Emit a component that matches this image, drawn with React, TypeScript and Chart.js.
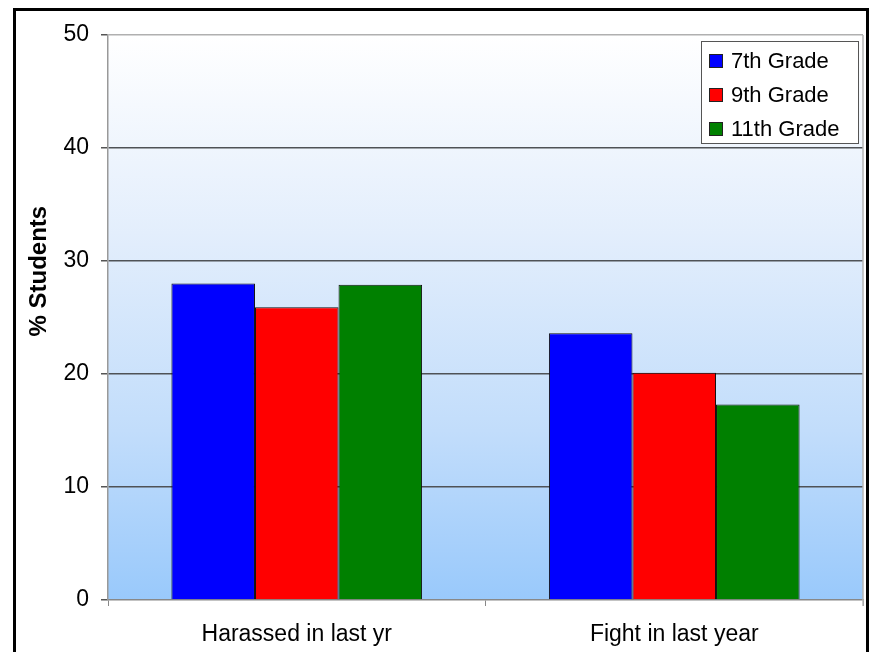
import React, { useEffect, useRef } from "react";
import { Chart, registerables } from "chart.js";

Chart.register(...registerables);

const categories = ["Harassed in last yr", "Fight in last year"];
const seriesNames = ["7th Grade", "9th Grade", "11th Grade"];
const grade7 = [28.0, 23.6];
const grade9 = [25.9, 20.1];
const grade11 = [27.9, 17.3];
const seriesColors = ["#0000ff", "#ff0000", "#008000"];
const yTicks = [0, 10, 20, 30, 40, 50];
const yTitle = "% Students";

const FONT = "'Liberation Sans', Arial, sans-serif";

const bgPlugin = {
  id: "bgPlugin",
  beforeDraw(chart: any) {
    const { ctx, chartArea } = chart;
    const { left, top, right, bottom } = chartArea;
    const g = ctx.createLinearGradient(0, top, 0, bottom);
    g.addColorStop(0, "#ffffff");
    g.addColorStop(0.35, "#e3eefc");
    g.addColorStop(0.7, "#c2ddfb");
    g.addColorStop(1, "#99c9fb");
    ctx.save();
    ctx.fillStyle = g;
    ctx.fillRect(left, top, right - left, bottom - top);
    ctx.restore();
  },
  afterDraw(chart: any) {
    const { ctx, chartArea } = chart;
    const { left, top, right, bottom } = chartArea;
    ctx.save();
    // right border of the plot
    ctx.strokeStyle = "#b5b5b5";
    ctx.lineWidth = 1.5;
    ctx.beginPath();
    ctx.moveTo(right, top);
    ctx.lineTo(right, bottom + 6);
    ctx.stroke();

    // y axis title
    ctx.fillStyle = "#000";
    ctx.font = `bold 24px ${FONT}`;
    ctx.textAlign = "center";
    ctx.textBaseline = "middle";
    ctx.translate(39, top + (bottom - top) * 0.418);
    ctx.rotate(-Math.PI / 2);
    ctx.fillText(yTitle, 0, 0);
    ctx.restore();

    // legend
    ctx.save();
    const lx = 701, ly = 41, lw = 157, lh = 102;
    ctx.fillStyle = "#ffffff";
    ctx.fillRect(lx, ly, lw, lh);
    ctx.strokeStyle = "#555";
    ctx.lineWidth = 1;
    ctx.strokeRect(lx + 0.5, ly + 0.5, lw, lh);
    ctx.font = `22px ${FONT}`;
    ctx.textAlign = "left";
    ctx.textBaseline = "middle";
    chart.data.datasets.forEach((ds: any, i: number) => {
      const cy = ly + 20 + i * 34;
      ctx.fillStyle = ds.backgroundColor;
      ctx.fillRect(lx + 8, cy - 7, 14, 14);
      ctx.strokeStyle = "#222";
      ctx.strokeRect(lx + 8.5, cy - 6.5, 13, 13);
      ctx.fillStyle = "#000";
      ctx.fillText(ds.label, lx + 30, cy + 1);
    });
    ctx.restore();
  },
};

export default function App() {
  const ref = useRef<HTMLCanvasElement>(null);

  useEffect(() => {
    if (!ref.current) return;
    const data = [grade7, grade9, grade11];
    const chart = new Chart(ref.current, {
      type: "bar",
      data: {
        labels: categories,
        datasets: seriesNames.map((name, i) => ({
          label: name,
          data: data[i],
          backgroundColor: seriesColors[i],
          borderColor: "#111",
          borderWidth: 1,
          barPercentage: 1,
          categoryPercentage: 0.664,
        })),
      },
      options: {
        animation: false,
        responsive: false,
        maintainAspectRatio: false,
        layout: { padding: { left: 0, right: 10, top: 35, bottom: 0 } },
        plugins: {
          legend: { display: false },
          tooltip: { enabled: false },
          title: { display: false },
        },
        scales: {
          x: {
            grid: {
              offset: true,
              drawOnChartArea: false,
              drawTicks: true,
              tickLength: 6,
              tickColor: "#888",
            },
            border: { color: "#888", width: 1.5 },
            ticks: {
              color: "#000",
              font: { family: FONT, size: 23 },
              padding: 15,
            },
            afterFit(scale: any) {
              scale.height = 52;
            },
          },
          y: {
            min: 0,
            max: 50,
            afterBuildTicks(scale: any) {
              scale.ticks = yTicks.map((v) => ({ value: v }));
            },
            grid: {
              color: (c: any) =>
                c.tick && c.tick.value === 50 ? "#b0b0b0" : c.tick && c.tick.value === 0 ? "rgba(0,0,0,0)" : "#4f5256",
              lineWidth: 1.5,
              drawTicks: true,
              tickLength: 7,
              tickColor: "#555",
            },
            border: { color: "#999", width: 1.5 },
            ticks: {
              color: "#000",
              font: { family: FONT, size: 23 },
              padding: 12,
            },
            afterFit(scale: any) {
              scale.width = 108;
            },
          },
        },
      },
      plugins: [bgPlugin],
    });
    return () => chart.destroy();
  }, []);

  return (
    <div style={{ position: "absolute", left: 0, top: 0, width: 873, height: 652, overflow: "hidden", background: "#fff" }}>
      <canvas ref={ref} width={873} height={652} style={{ display: "block" }} />
      <div
        style={{
          position: "absolute",
          left: 13,
          top: 8,
          width: 850,
          height: 660,
          border: "3px solid #000",
          pointerEvents: "none",
        }}
      />
    </div>
  );
}
